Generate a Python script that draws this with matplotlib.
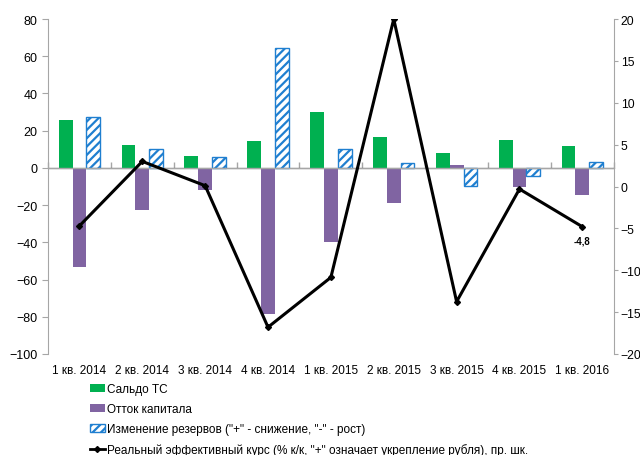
import numpy as np
import matplotlib.pyplot as plt
from matplotlib.patches import Patch
from matplotlib.lines import Line2D

plt.rcParams["font.family"] = ["Liberation Sans", "DejaVu Sans"]
plt.rcParams["hatch.linewidth"] = 1.6

quarters = ["1 кв. 2014", "2 кв. 2014", "3 кв. 2014", "4 кв. 2014", "1 кв. 2015",
            "2 кв. 2015", "3 кв. 2015", "4 кв. 2015", "1 кв. 2016"]
trade_balance = [25.8, 12.4, 6.3, 14.3, 30.0, 16.8, 8.1, 15.0, 11.8]
capital_outflow = [-53.4, -22.4, -11.8, -78.5, -40.0, -18.8, 1.8, -10.4, -14.3]
reserves_change = [27.6, 10.4, 5.7, 64.3, 10.2, 2.5, -9.8, -4.1, 3.0]
reer = [-4.7, 3.0, 0.1, -16.8, -10.85, 20.0, -13.75, -0.3, -4.8]

GREEN = "#00B050"
PURPLE = "#8064A2"
BLUE = "#1F7FD0"
GRAY = "#A6A6A6"
FS = 8.5

fig = plt.figure(figsize=(6.4, 4.56), dpi=100)
ax = fig.add_axes([0.075, 0.2215, 0.884, 0.7345])
ax2 = ax.twinx()

x = np.arange(len(quarters))
w = 0.22
ax.bar(x - w, trade_balance, w, color=GREEN, zorder=2)
ax.bar(x, capital_outflow, w, color=PURPLE, zorder=2)
ax.bar(x + w, reserves_change, w, facecolor="white", edgecolor=BLUE,
       hatch="////", linewidth=1.0, zorder=2)

ax2.plot(x, reer, color="black", linewidth=2.2, marker="D", markersize=3, zorder=5)
ax2.annotate("-4,8", (x[-1], reer[-1]), xytext=(0, -6), textcoords="offset points",
             ha="center", va="top", fontsize=7, fontweight="bold")

ax.set_xlim(-0.5, len(quarters) - 0.5)
ax.set_ylim(-100, 80)
ax.set_yticks(range(-100, 81, 20))
ax2.set_ylim(-20, 20)
ax2.set_yticks(range(-20, 21, 5))

# zero line with category separators
ax.axhline(0, color=GRAY, linewidth=1.0, zorder=3)
zero = ax.secondary_xaxis(100 / 180)
zero.set_xticks(np.arange(-0.5, len(quarters), 1.0))
zero.set_xticklabels([])
zero.tick_params(axis="x", direction="out", length=4, color=GRAY, width=1)
zero.spines["bottom"].set_color(GRAY)

ax.set_xticks(x)
ax.set_xticklabels(quarters)
ax.tick_params(axis="x", length=0, pad=7, labelsize=FS)
ax.tick_params(axis="y", length=4, color=GRAY, labelsize=FS + 0.5)
ax2.tick_params(axis="y", length=3, color=GRAY, labelsize=FS + 0.3, pad=2)

for a in (ax, ax2):
    a.spines["top"].set_visible(False)
    a.spines["bottom"].set_visible(False)
ax.spines["right"].set_visible(False)
ax.spines["left"].set_color(GRAY)
ax2.spines["left"].set_visible(False)
ax2.spines["right"].set_color(GRAY)

handles = [
    Patch(facecolor=GREEN, label="Сальдо ТС"),
    Patch(facecolor=PURPLE, label="Отток капитала"),
    Patch(facecolor="white", edgecolor=BLUE, hatch="////",
          label='Изменение резервов ("+" - снижение, "-" - рост)'),
    Line2D([], [], color="black", linewidth=2, marker="D", markersize=3,
           label='Реальный эффективный курс (% к/к, "+" означает укрепление рубля), пр. шк.'),
]
fig.legend(handles=handles, loc="upper left", bbox_to_anchor=(0.131, 0.171),
           frameon=False, fontsize=FS, borderpad=0, labelspacing=0.68,
           handlelength=1.3, handleheight=0.6, handletextpad=0.2)

fig.savefig("out.png", dpi=100)
